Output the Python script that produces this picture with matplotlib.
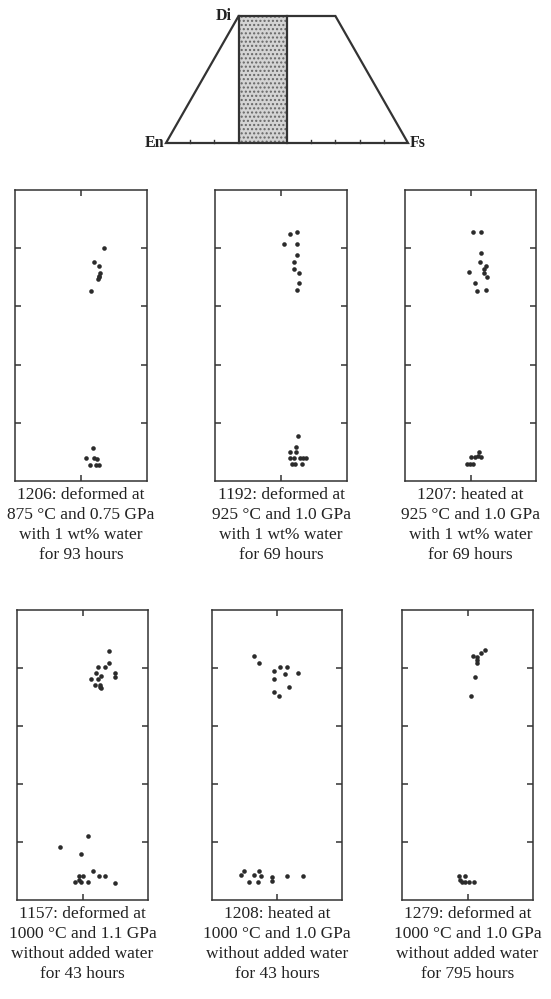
import matplotlib.pyplot as plt
from matplotlib.patches import Polygon, Rectangle

plt.rcParams['font.family'] = ['Liberation Serif', 'DejaVu Serif']

# quadrilateral corners (x in % along En-Fs, y 0 = base, 1 = top)
quad_x = [0, 30, 70, 100]
quad_y = [0, 1, 1, 0]
shade_range = [30, 50]
base_ticks = [10, 20, 60, 70, 80, 90]

# run 1206
x_1206 = [43.5, 41.9, 42.8, 42.9, 42.7, 42.5, 42.7, 41.5,
          41.8, 40.7, 41.9, 42.4, 41.3, 42.3, 42.7]
y_1206 = [40.1, 37.6, 36.9, 35.7, 35.3, 34.7, 35.0, 32.6,
          5.7, 4.0, 3.9, 3.7, 2.7, 2.7, 2.7]

# run 1192
x_1192 = [41.3, 42.4, 40.5, 42.4, 42.4, 41.9, 42.0, 42.8, 42.8, 42.4,
          42.6, 42.3, 41.4, 42.3, 41.3, 42.0, 42.9, 43.4, 43.8, 41.6, 42.1, 43.2]
y_1192 = [42.4, 42.8, 40.7, 40.7, 38.9, 37.7, 36.4, 35.8, 34.0, 32.8,
          7.7, 5.9, 4.9, 4.9, 4.0, 3.9, 4.0, 4.0, 4.0, 2.9, 2.9, 2.9]

# run 1207
x_1207 = [40.4, 41.6, 41.6, 41.5, 39.8, 42.4, 42.0, 42.1, 42.5, 40.7, 41.0, 42.4,
          41.3, 40.1, 40.7, 41.2, 41.6, 39.4, 39.9, 40.4]
y_1207 = [42.8, 42.8, 39.1, 37.7, 35.9, 36.9, 36.4, 35.7, 35.0, 34.1, 32.6, 32.9,
          5.0, 4.1, 4.2, 4.3, 4.2, 2.9, 2.9, 3.0]

# run 1157
x_1157 = [44.0, 44.0, 42.3, 43.5, 42.0, 42.9, 42.4, 41.3, 41.9, 42.7, 42.8, 45.0, 45.0, 42.7,
          40.9, 36.6, 39.8, 41.6, 39.4, 40.0, 42.5, 43.4, 38.8, 39.8, 40.9, 45.0, 39.5]
y_1157 = [42.9, 40.9, 40.1, 40.1, 39.1, 38.6, 38.1, 38.1, 37.1, 37.1, 36.6, 39.1, 38.5, 36.8,
          11.0, 9.2, 8.0, 5.0, 4.2, 4.2, 4.2, 4.2, 3.1, 3.1, 3.1, 3.0, 3.4]

# run 1208
x_1208 = [36.5, 37.2, 40.4, 41.6, 39.6, 41.3, 43.3, 39.6, 41.8, 39.6, 40.3,
          34.9, 34.5, 36.5, 37.2, 37.5, 35.7, 37.1, 39.2, 39.2, 41.6, 44.0]
y_1208 = [42.1, 40.9, 40.1, 40.1, 39.4, 39.0, 39.1, 38.1, 36.7, 35.9, 35.1,
          5.0, 4.3, 4.3, 5.0, 4.2, 3.1, 3.1, 4.0, 3.3, 4.1, 4.1]

# run 1279
x_1279 = [42.6, 42.1, 41.4, 40.9, 41.5, 41.4, 41.2, 40.5,
          38.7, 39.6, 38.9, 39.6, 40.3, 41.0, 39.1]
y_1279 = [43.1, 42.6, 41.9, 42.1, 41.4, 40.8, 38.4, 35.1,
          4.1, 4.1, 3.4, 3.1, 3.1, 3.1, 3.1]

captions = [
    "1206: deformed at\n875 °C and 0.75 GPa\nwith 1 wt% water\nfor 93 hours",
    "1192: deformed at\n925 °C and 1.0 GPa\nwith 1 wt% water\nfor 69 hours",
    "1207: heated at\n925 °C and 1.0 GPa\nwith 1 wt% water\nfor 69 hours",
    "1157: deformed at\n1000 °C and 1.1 GPa\nwithout added water\nfor 43 hours",
    "1208: heated at\n1000 °C and 1.0 GPa\nwithout added water\nfor 43 hours",
    "1279: deformed at\n1000 °C and 1.0 GPa\nwithout added water\nfor 795 hours",
]

W, H = 551, 999
fig = plt.figure(figsize=(W / 100, H / 100), dpi=100)
ink = '#333333'


def px_axes(left, top, right, bottom):
    return fig.add_axes([left / W, 1 - bottom / H, (right - left) / W, (bottom - top) / H])


# top diagram
ax0 = px_axes(166, 16, 408, 143)
ax0.set_xlim(0, 100)
ax0.set_ylim(0, 1)
ax0.axis('off')
ax0.add_patch(Rectangle((shade_range[0], 0), shade_range[1] - shade_range[0], 1,
                        facecolor='#d4d4d4', edgecolor='#666666', hatch='....',
                        linewidth=0, zorder=1))
ax0.add_patch(Polygon(list(zip(quad_x, quad_y)), closed=True, fill=False,
                      edgecolor=ink, linewidth=1.6, zorder=3, clip_on=False))
for s in shade_range:
    ax0.plot([s, s], [0, 1], color=ink, lw=1.6, zorder=3, clip_on=False)
for t in base_ticks:
    ax0.plot([t, t], [0, 0.025], color=ink, lw=1.0, clip_on=False)
ax0.text(quad_x[1] - 3, 1.0, 'Di', ha='right', va='center', fontsize=11.5, fontweight='bold', color='#222222')
ax0.text(-0.5, 0, 'En', ha='right', va='center', fontsize=11.5, fontweight='bold', color='#222222')
ax0.text(100.8, 0, 'Fs', ha='left', va='center', fontsize=11.5, fontweight='bold', color='#222222')

# panels
rects = [(15, 190, 147, 481), (215, 190, 347, 481), (405, 190, 536, 481),
         (17, 610, 148, 900), (212, 610, 342, 900), (402, 610, 533, 900)]
xs = [x_1206, x_1192, x_1207, x_1157, x_1208, x_1279]
ys = [y_1206, y_1192, y_1207, y_1157, y_1208, y_1279]

for rect, x, y, cap in zip(rects, xs, ys, captions):
    ax = px_axes(*rect)
    ax.plot(x, y, 'o', color='#2b2b2b', markersize=3.3, markeredgewidth=0)
    ax.set_xlim(30, 50)
    ax.set_ylim(0, 50)
    ax.set_xticks([40])
    ax.set_yticks([10, 20, 30, 40])
    ax.tick_params(direction='in', length=4, width=1.1, color=ink,
                   top=True, right=True, labelleft=False, labelbottom=False)
    for sp in ax.spines.values():
        sp.set_color(ink)
        sp.set_linewidth(1.1)
    cx = (rect[0] + rect[2]) / 2
    fig.text(cx / W, 1 - (rect[3] + 6) / H, cap, ha='center', va='top',
             fontsize=12.5, linespacing=1.34, color='#222222')

fig.savefig('out.png', dpi=100)
